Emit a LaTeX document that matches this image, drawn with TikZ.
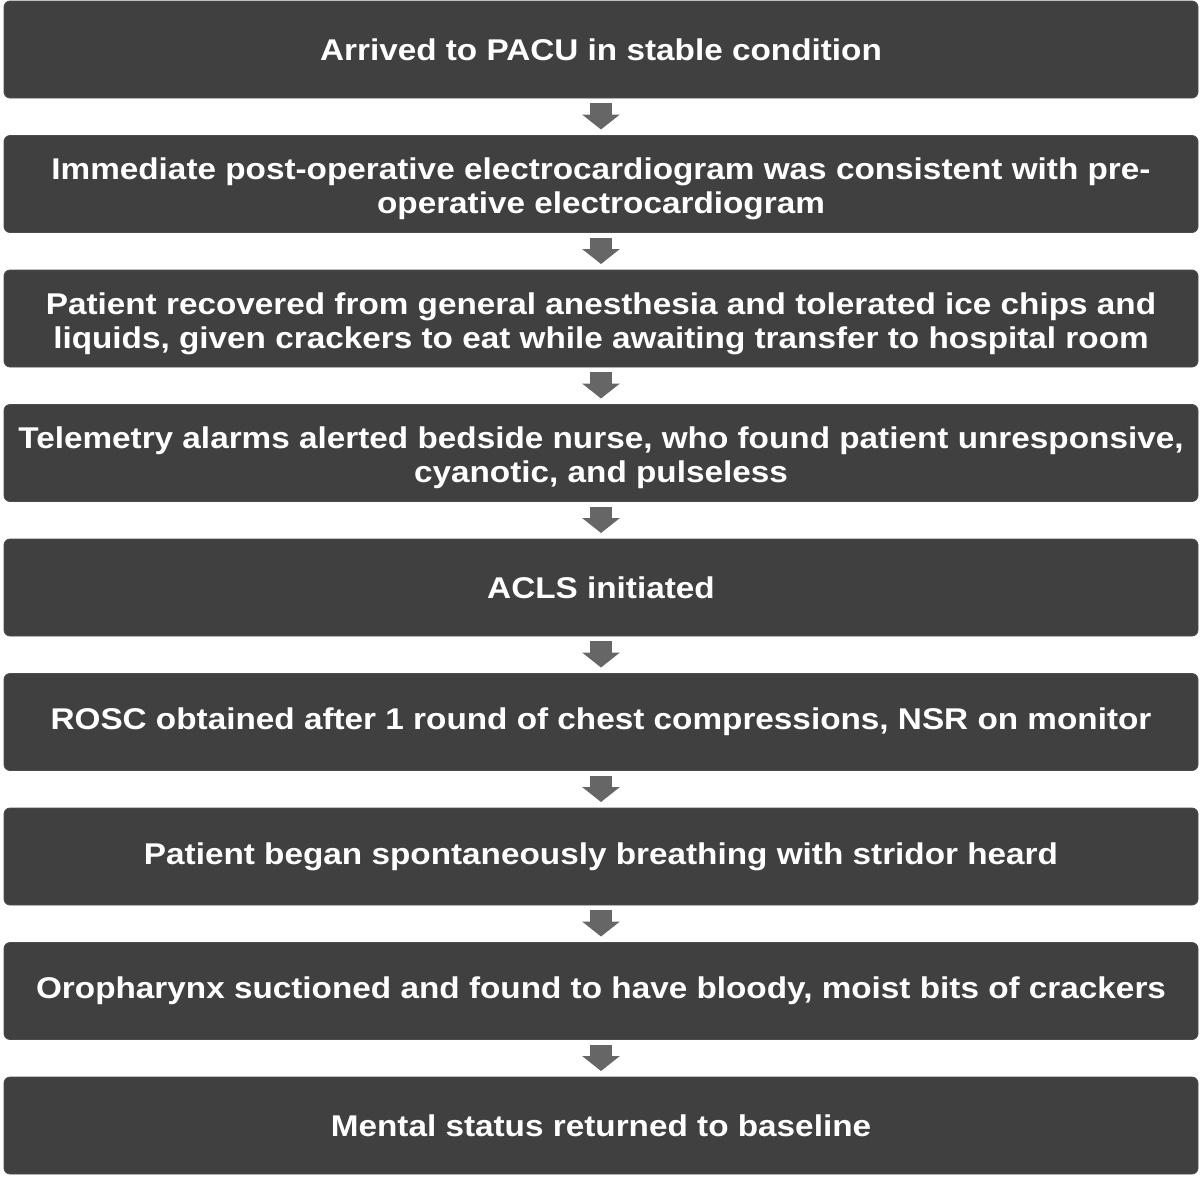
\documentclass[tikz,border=0pt]{standalone}
\usepackage{fontspec}
\setmainfont{Liberation Sans}[FakeStretch = 1.11]
\usetikzlibrary{positioning, arrows.meta}
\definecolor{boxgray}{HTML}{404040}
\definecolor{edgegray}{HTML}{4C4C4C}
\definecolor{arrgray}{HTML}{666666}
\newcommand{\tallline}{\rule{0pt}{32pt}}

\begin{document}
\begin{tikzpicture} [x = 1pt, y = 1pt,
  box/.style = {draw = edgegray, fill = boxgray, rounded corners = 6pt, line width = 0.8pt, outer sep = 0pt,
    minimum width = 1194pt, minimum height = 97pt, inner sep = 0pt, text = white, align = center,
    font = \fontsize{30}{34}\selectfont\bfseries},
  down/.style = {draw = arrgray, line width = 22pt, -{Triangle[width = 37pt, length = 15pt]}}]
\useasboundingbox (0,0) rectangle (1200,-1176);
\node[box] (b1) at (601,-49.5) {Arrived to PACU in stable condition};
\node[box, below = 37.5pt of b1] (b2) {\tallline Immediate post-operative electrocardiogram was consistent with pre-\\operative electrocardiogram};
\node[box, below = 37.5pt of b2] (b3) {\tallline Patient recovered from general anesthesia and tolerated ice chips and\\liquids, given crackers to eat while awaiting transfer to hospital room};
\node[box, below = 37.5pt of b3] (b4) {\tallline Telemetry alarms alerted bedside nurse, who found patient unresponsive,\\cyanotic, and pulseless};
\node[box, below = 37.5pt of b4] (b5) {ACLS initiated};
\node[box, below = 37.5pt of b5] (b6) {ROSC obtained after 1 round of chest compressions, NSR on monitor};
\node[box, below = 37.5pt of b6] (b7) {Patient began spontaneously breathing with stridor heard};
\node[box, below = 37.5pt of b7] (b8) {Oropharynx suctioned and found to have bloody, moist bits of crackers};
\node[box, below = 37.5pt of b8] (b9) {Mental status returned to baseline};
\draw[down] ([yshift = -5pt]b1.south) -- ([yshift = 6pt]b2.north);
\draw[down] ([yshift = -5pt]b2.south) -- ([yshift = 6pt]b3.north);
\draw[down] ([yshift = -5pt]b3.south) -- ([yshift = 6pt]b4.north);
\draw[down] ([yshift = -5pt]b4.south) -- ([yshift = 6pt]b5.north);
\draw[down] ([yshift = -5pt]b5.south) -- ([yshift = 6pt]b6.north);
\draw[down] ([yshift = -5pt]b6.south) -- ([yshift = 6pt]b7.north);
\draw[down] ([yshift = -5pt]b7.south) -- ([yshift = 6pt]b8.north);
\draw[down] ([yshift = -5pt]b8.south) -- ([yshift = 6pt]b9.north);
\end{tikzpicture}
\end{document}
